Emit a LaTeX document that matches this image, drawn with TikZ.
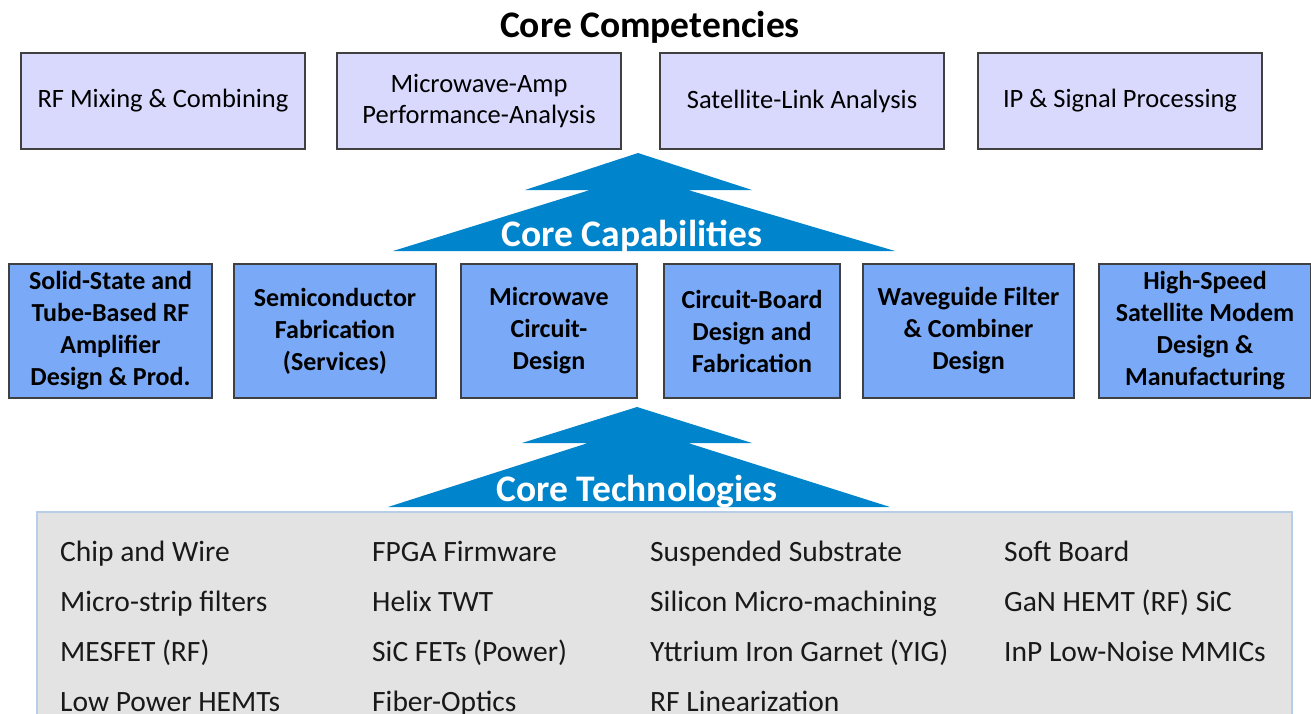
\documentclass[tikz,border=0pt]{standalone}
\usepackage{fontspec}
\setmainfont{Carlito}
\definecolor{complav}{RGB}{217,217,254}
\definecolor{capblue}{RGB}{122,170,247}
\definecolor{arrowblue}{RGB}{0,132,203}
\definecolor{techgray}{RGB}{227,227,227}
\definecolor{techedge}{RGB}{184,206,232}
\definecolor{boxline}{RGB}{64,64,64}
\begin{document}
\begin{tikzpicture}[x=1pt,y=-1pt]
\tikzstyle{compbox}=[draw=boxline,fill=complav,line width=1.2pt,minimum width=284pt,minimum height=96pt,align=center,font=\fontsize{26.5}{31}\selectfont];
\tikzstyle{capbox}=[draw=boxline,fill=capblue,line width=1.2pt,minimum height=134pt,inner sep=0pt,align=center,font=\bfseries\fontsize{26}{32}\selectfont];
\tikzstyle{banner}=[anchor=base,text=white,font=\bfseries\fontsize{37.5}{40}\selectfont];
\tikzstyle{tech}=[anchor=base west,inner sep=0pt,text=black!90,font=\fontsize{29.5}{32}\selectfont];
\clip (0,0) rectangle (1311,713);
% title
\node[anchor=base,font=\bfseries\fontsize{37.5}{40}\selectfont] (title) at (650,37) {Core Competencies};
% competencies
\node[compbox] (comp1) at (163,101) {RF Mixing \& Combining};
\node[compbox] (comp2) at (479,101) {Microwave-Amp\\Performance-Analysis};
\node[compbox] (comp3) at (802,101) {Satellite-Link Analysis};
\node[compbox] (comp4) at (1120,101) {IP \& Signal Processing};
% arrow up to competencies
\fill[arrowblue] (638,153) -- (752,190) -- (688,190) -- (895,251) -- (393,251) -- (590,190) -- (525,190) -- cycle;
\node[banner] (capt) at (632,246) {Core Capabilities};
% capabilities
\node[capbox,minimum width=203pt] (cap1) at (110.5,331) {Solid-State and\\Tube-Based RF\\Amplifier\\Design \& Prod.};
\node[capbox,minimum width=202pt] (cap2) at (335,331) {Semiconductor\\Fabrication\\(Services)};
\node[capbox,minimum width=176pt] (cap3) at (549,331) {Microwave\\Circuit-\\Design};
\node[capbox,minimum width=176pt] (cap4) at (752,331) {Circuit-Board\\Design and\\Fabrication};
\node[capbox,minimum width=211pt] (cap5) at (968.5,331) {Waveguide Filter\\\& Combiner\\Design};
\node[capbox,minimum width=212pt] (cap6) at (1205,331) {High-Speed\\Satellite Modem\\Design \&\\Manufacturing};
% arrow up to capabilities
\fill[arrowblue] (637,407) -- (752,443) -- (688,443) -- (890,507) -- (388,507) -- (588,443) -- (522,443) -- cycle;
\node[banner] (techt) at (637,501) {Core Technologies};
% technologies
\draw[techedge,fill=techgray,line width=1.5pt] (37,512) rectangle (1292,730);
\node[tech] (t11) at (60,561) {Chip and Wire};
\node[tech] (t21) at (60,611) {Micro-strip filters};
\node[tech] (t31) at (60,661) {MESFET (RF)};
\node[tech] (t41) at (60,711) {Low Power HEMTs};
\node[tech] (t12) at (372,561) {FPGA Firmware};
\node[tech] (t22) at (372,611) {Helix TWT};
\node[tech] (t32) at (372,661) {SiC FETs (Power)};
\node[tech] (t42) at (372,711) {Fiber-Optics};
\node[tech] (t13) at (650,561) {Suspended Substrate};
\node[tech] (t23) at (650,611) {Silicon Micro-machining};
\node[tech] (t33) at (650,661) {Yttrium Iron Garnet (YIG)};
\node[tech] (t43) at (650,711) {RF Linearization};
\node[tech] (t14) at (1004,561) {Soft Board};
\node[tech] (t24) at (1004,611) {GaN HEMT (RF) SiC};
\node[tech] (t34) at (1004,661) {InP Low-Noise MMICs};
\end{tikzpicture}
\end{document}
